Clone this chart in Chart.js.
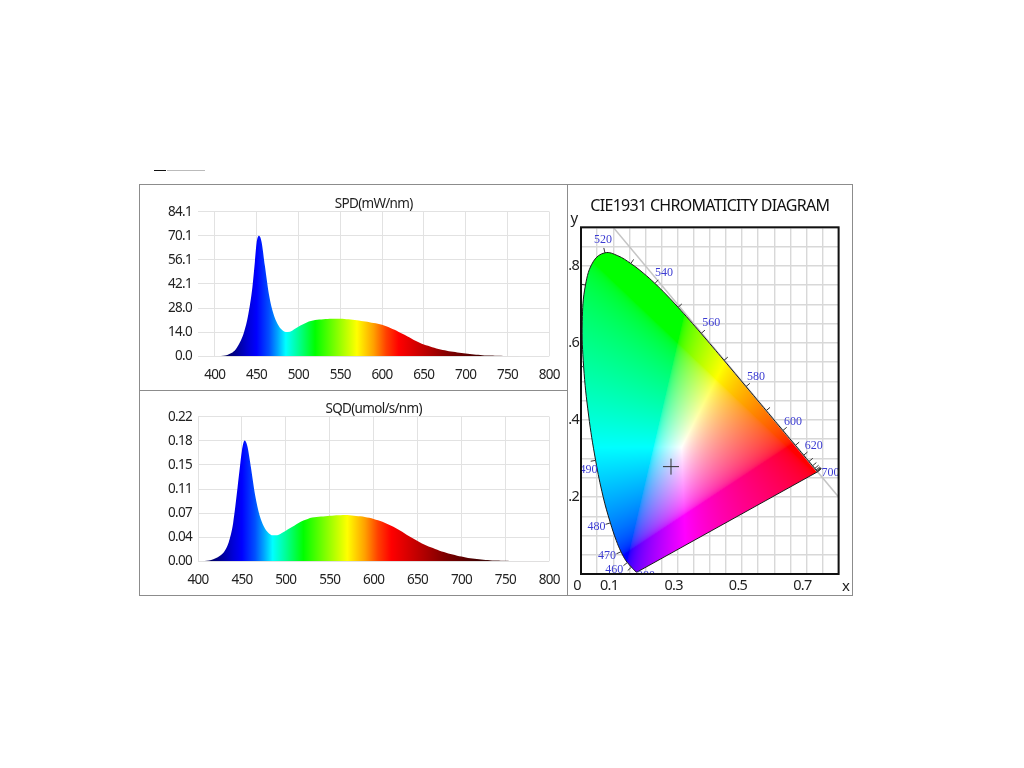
<!DOCTYPE html>
<html>
<head>
<meta charset="utf-8">
<script src="https://cdn.jsdelivr.net/npm/chart.js@4/dist/chart.umd.js"></script>
<style>
  html, body { margin: 0; background: #fff; }
  #frame { position: absolute; left: 139px; top: 184px; width: 712px; height: 410px; border: 1px solid #8c8c8c; }
  #splitV { position: absolute; left: 567px; top: 185px; width: 1px; height: 410px; background: #8c8c8c; }
  #splitH { position: absolute; left: 140px; top: 390px; width: 427px; height: 1px; background: #8c8c8c; }
  #barA { position: absolute; left: 154px; top: 170px; width: 12px; height: 1px; background: #111; }
  #barB { position: absolute; left: 167px; top: 170px; width: 38px; height: 1px; background: #bbb; }
  canvas { position: absolute; }
</style>
</head>
<body>
<div id="frame"></div><div id="splitV"></div><div id="splitH"></div><div id="barA"></div><div id="barB"></div>
<canvas id="spd" width="427" height="204" style="left:140px;top:186px"></canvas>
<canvas id="sqd" width="427" height="204" style="left:140px;top:391px"></canvas>
<canvas id="cie" width="283" height="409" style="left:568px;top:186px"></canvas>
<script>
const wavelengths = [
  400, 405, 410, 415, 420, 425, 430, 435, 440, 445,
  448, 450, 453, 456, 460, 465, 470, 475, 480, 485,
  490, 495, 500, 505, 510, 515, 520, 525, 530, 535,
  540, 545, 550, 555, 560, 565, 570, 575, 580, 585,
  590, 595, 600, 605, 610, 615, 620, 625, 630, 635,
  640, 645, 650, 655, 660, 665, 670, 675, 680, 685,
  690, 695, 700, 705, 710, 715, 720, 725, 730, 735,
  740, 745, 750, 755, 760, 765, 770, 775, 780, 785,
  790, 795, 800,
];
const spdValues = [
  0, 0.1, 0.3, 0.8, 1.9, 4.0, 8.0, 14.0, 24.0, 40.0,
  55.0, 65.7, 70.1, 66.5, 52.5, 35.5, 25.0, 19.0, 15.6, 14.2,
  14.3, 15.7, 17.2, 18.5, 19.7, 20.5, 21.1, 21.4, 21.6, 21.7,
  21.8, 21.8, 21.8, 21.7, 21.5, 21.3, 21.0, 20.6, 20.2, 19.8,
  19.3, 18.9, 18.3, 17.5, 16.5, 15.4, 14.2, 12.9, 11.6, 10.3,
  9.0, 7.9, 6.9, 6.1, 5.3, 4.6, 4.0, 3.5, 3.0, 2.6,
  2.2, 1.9, 1.6, 1.3, 1.05, 0.85, 0.65, 0.5, 0.4, 0.3,
  0.25, 0.2, 0.15, 0.15, 0.15, 0.1, 0.1, 0.1, 0.1, 0.1,
  0.1, 0.1, 0.1,
];
const sqdValues = [
  0, 0.0002, 0.0008, 0.002, 0.0045, 0.0085, 0.015, 0.029, 0.058, 0.112,
  0.147, 0.168, 0.1836, 0.176, 0.145, 0.101, 0.0705, 0.053, 0.0435, 0.0395,
  0.0395, 0.0425, 0.0465, 0.0505, 0.0545, 0.0585, 0.062, 0.0645, 0.0665, 0.0675,
  0.068, 0.0687, 0.0692, 0.0697, 0.07, 0.0705, 0.0703, 0.0698, 0.069, 0.0685,
  0.0675, 0.0662, 0.0645, 0.0625, 0.06, 0.0572, 0.0542, 0.0508, 0.047, 0.0428,
  0.0385, 0.0345, 0.0307, 0.0272, 0.024, 0.0212, 0.0186, 0.0162, 0.014, 0.012,
  0.0102, 0.0086, 0.0072, 0.0059, 0.0048, 0.0039, 0.003, 0.0024, 0.0018, 0.0014,
  0.0012, 0.001, 0.0008, 0.0006, 0.0005, 0.0004, 0.0003, 0.0003, 0.0003, 0.0003,
  0.0003, 0.0003, 0.0003,
];
const nmTicks = [400, 450, 500, 550, 600, 650, 700, 750, 800];
const spdTicks = [0, 14.02, 28.03, 42.06, 56.07, 70.08, 84.1];
const sqdTicks = [0, 0.0367, 0.0733, 0.11, 0.1467, 0.1833, 0.22];

const spectrumStops = [380, 410, 425, 440, 450, 465, 475, 485, 500, 520, 545, 570, 590, 605, 620, 650, 680, 720, 760];
const spectrumColors = ["#100030", "#000050", "#000090", "#0000d8", "#0000ff", "#0050ff", "#00a4ff", "#00ffff", "#00ff96", "#00ff00", "#80ff00", "#ffff00", "#ffa000", "#ff4000", "#ff0000", "#c00000", "#800000", "#400000", "#503030"];

const locusNm = [380, 400, 420, 440, 450, 460, 465, 470, 475, 480, 485, 490, 495, 500, 505, 510, 515, 520, 525, 530, 535, 540, 545, 550, 555, 560, 565, 570, 575, 580, 585, 590, 595, 600, 605, 610, 620, 630, 640, 650, 660, 670, 680, 690, 700];
const locusX = [0.1741, 0.1733, 0.1714, 0.1644, 0.1566, 0.144, 0.1355, 0.1241, 0.1096, 0.0913, 0.0687, 0.0454, 0.0235, 0.0082, 0.0039, 0.0139, 0.0389, 0.0743, 0.1142, 0.1547, 0.1929, 0.2296, 0.2658, 0.3016, 0.3373, 0.3731, 0.4087, 0.4441, 0.4788, 0.5125, 0.5448, 0.5752, 0.6029, 0.627, 0.6482, 0.6658, 0.6915, 0.7079, 0.719, 0.726, 0.73, 0.732, 0.7334, 0.7344, 0.7347];
const locusY = [0.005, 0.0048, 0.0051, 0.0109, 0.0177, 0.0297, 0.0399, 0.0578, 0.0868, 0.1327, 0.2007, 0.295, 0.4127, 0.5384, 0.6548, 0.7502, 0.812, 0.8338, 0.8262, 0.8059, 0.7816, 0.7543, 0.7243, 0.6923, 0.6589, 0.6245, 0.5896, 0.5547, 0.5202, 0.4866, 0.4544, 0.4242, 0.3965, 0.3725, 0.3514, 0.334, 0.3083, 0.292, 0.2809, 0.274, 0.27, 0.268, 0.2666, 0.2656, 0.2653];
const tickedNm = [450, 460, 470, 480, 490, 500, 510, 520, 530, 540, 550, 560, 570, 580, 590, 600, 610, 620, 630, 640, 650, 660, 670, 680, 690, 700];
const labelledNm = [380, 460, 470, 480, 490, 520, 540, 560, 580, 600, 620, 700];
const labelShiftX = [9, -13, -14, -14, -7, -2, 9, 10, 10, 10, 10, 13];
const labelShiftY = [4, 7, 4, 4, 9, -13, -11, -11, -10, -9, -9, 1];
const cieXLabels = { "0.00": "0", "0.10": "0.1", "0.30": "0.3", "0.50": "0.5", "0.70": "0.7" };
const cieYLabels = { "0.20": ".2", "0.40": ".4", "0.60": ".6", "0.80": ".8" };
const measuredX = [0.2795];
const measuredY = [0.2787];
const unityX = [0.1, 0.8];
const unityY = [0.9, 0.2];

const UI_FONT = '"Noto Sans", sans-serif';
const TEXT_TIGHTEN = "-0.7px";
Chart.defaults.font.family = UI_FONT;
Chart.defaults.color = "#222";

const GRID = "#e2e2e2";

// the reference uses a narrow face, none is installed so pull the letters together
Chart.register({
  id: "tightText",
  beforeUpdate(chart) { chart.ctx.letterSpacing = TEXT_TIGHTEN; },
  beforeDraw(chart) { chart.ctx.letterSpacing = TEXT_TIGHTEN; },
});

const spectrumGradient = (context) => {
  const { chart } = context;
  if (!chart.chartArea) return "#0000ff";
  const xs = chart.scales.x;
  const gradient = chart.ctx.createLinearGradient(xs.left, 0, xs.right, 0);
  spectrumStops.forEach((nm, i) => {
    const at = (nm - xs.min) / (xs.max - xs.min);
    if (at >= 0 && at <= 1) gradient.addColorStop(at, spectrumColors[i]);
  });
  return gradient;
};

const createSpectrum = (id, name, values, yTicks, decimals, xMin, titleTop) => {
  return new Chart(document.getElementById(id), {
    type: "line",
    data: {
      datasets: [
        {
          label: name,
          data: wavelengths.map((nm, i) => ({ x: nm, y: values[i] })),
          borderWidth: 0,
          pointRadius: 0,
          fill: "origin",
          cubicInterpolationMode: "monotone",
          backgroundColor: spectrumGradient,
        },
      ],
    },
    options: {
      responsive: false,
      animation: false,
      layout: { autoPadding: false, padding: { right: 17.7, bottom: 0, left: 0, top: 0 } },
      plugins: {
        legend: { display: false },
        tooltip: { enabled: false },
        title: {
          display: true,
          text: name,
          fullSize: false,
          font: { size: 13.5, weight: "normal", lineHeight: 1 },
          color: "#222",
          padding: titleTop,
        },
      },
      scales: {
        x: {
          type: "linear",
          min: xMin,
          max: 800,
          afterBuildTicks: (axis) => { axis.ticks = nmTicks.map((value) => ({ value })); },
          afterFit: (axis) => {
            axis.height = 33.7;
            axis.paddingLeft = 0;
            axis.paddingRight = 0;
          },
          grid: { color: GRID, drawTicks: false },
          border: { display: false },
          ticks: { maxRotation: 0, autoSkip: false, padding: 10.5, font: { size: 13.5 }, callback: (value) => `${value}` },
        },
        y: {
          min: 0,
          max: yTicks[yTicks.length - 1],
          afterBuildTicks: (axis) => { axis.ticks = yTicks.map((value) => ({ value })); },
          afterFit: (axis) => { axis.width = 58; },
          grid: { color: GRID, drawTicks: false },
          border: { display: false },
          ticks: { autoSkip: false, padding: 6, font: { size: 13.5 }, callback: (value) => value.toFixed(decimals) },
        },
      },
    },
  });
};

const chromaticityColor = (x, y) => {
  const X = x / y;
  const Z = (1 - x - y) / y;
  const r = Math.max(0, 3.2406 * X - 1.5372 - 0.4986 * Z);
  const g = Math.max(0, -0.9689 * X + 1.8758 + 0.0415 * Z);
  const b = Math.max(0, 0.0557 * X - 0.204 + 1.057 * Z);
  const top = Math.max(r, g, b) || 1;
  return [r / top, g / top, b / top].map((c) => Math.round(255 * Math.pow(c, 1 / 2.2)));
};

// paints the horseshoe through the scales, clipped to the smoothed locus line
const horseshoeFill = {
  id: "horseshoeFill",
  beforeDatasetsDraw(chart) {
    const { ctx, chartArea: area, scales } = chart;
    const w = Math.round(area.width);
    const h = Math.round(area.height);
    const off = document.createElement("canvas");
    off.width = w;
    off.height = h;
    const offCtx = off.getContext("2d");
    const img = offCtx.createImageData(w, h);
    for (let py = 0; py < h; py++) {
      const y = scales.y.getValueForPixel(area.top + py + 0.5);
      for (let px = 0; px < w; px++) {
        const x = scales.x.getValueForPixel(area.left + px + 0.5);
        const [r, g, b] = chromaticityColor(x, Math.max(y, 0.001));
        const i = (py * w + px) * 4;
        img.data[i] = r;
        img.data[i + 1] = g;
        img.data[i + 2] = b;
        img.data[i + 3] = 255;
      }
    }
    offCtx.putImageData(img, 0, 0);
    ctx.save();
    ctx.beginPath();
    chart.getDatasetMeta(0).dataset.path(ctx);
    ctx.closePath();
    ctx.clip();
    ctx.drawImage(off, area.left, area.top);
    ctx.restore();
  },
};

const locusDecor = {
  id: "locusDecor",
  afterDatasetsDraw(chart) {
    const { ctx, chartArea: area, scales } = chart;
    const pos = (i) => [scales.x.getPixelForValue(locusX[i]), scales.y.getPixelForValue(locusY[i])];
    ctx.save();
    ctx.beginPath();
    ctx.rect(area.left, area.top, area.width, area.height);
    ctx.clip();
    ctx.strokeStyle = "#333";
    ctx.lineWidth = 1;
    tickedNm.forEach((nm) => {
      const i = locusNm.indexOf(nm);
      const [ax, ay] = pos(Math.max(i - 1, 0));
      const [bx, by] = pos(Math.min(i + 1, locusNm.length - 1));
      const len = Math.hypot(bx - ax, by - ay) || 1;
      const [px, py] = pos(i);
      ctx.beginPath();
      ctx.moveTo(px, py);
      ctx.lineTo(px + ((by - ay) / len) * 5, py - ((bx - ax) / len) * 5);
      ctx.stroke();
    });
    ctx.letterSpacing = "0px";
    ctx.fillStyle = "#3c3cd2";
    ctx.font = '12px "Liberation Serif", serif';
    ctx.textAlign = "center";
    ctx.textBaseline = "middle";
    labelledNm.forEach((nm, n) => {
      const [px, py] = pos(locusNm.indexOf(nm));
      ctx.fillText(`${nm}`, px + labelShiftX[n], py + labelShiftY[n]);
    });
    ctx.restore();
    ctx.strokeStyle = "#111";
    ctx.lineWidth = 2;
    ctx.strokeRect(area.left, area.top, area.width, area.height);
    ctx.fillStyle = "#222";
    ctx.font = `15px ${UI_FONT}`;
    ctx.textAlign = "center";
    ctx.textBaseline = "middle";
    ctx.fillText("x", area.right + 7, area.bottom + 13);
    ctx.fillText("y", area.left - 7, area.top - 9);
  },
};

const createCie = (id) => {
  return new Chart(document.getElementById(id), {
    type: "scatter",
    data: {
      datasets: [
        {
          data: locusX.map((x, i) => ({ x, y: locusY[i] })),
          showLine: true,
          tension: 0.4,
          borderColor: "#1a1a1a",
          borderWidth: 1,
          pointRadius: 0,
        },
        {
          data: [0, locusX.length - 1].map((i) => ({ x: locusX[i], y: locusY[i] })),
          showLine: true,
          borderColor: "#1a1a1a",
          borderWidth: 1,
          pointRadius: 0,
        },
        {
          data: unityX.map((x, i) => ({ x, y: unityY[i] })),
          showLine: true,
          borderColor: "#c4c4c4",
          borderWidth: 1.5,
          pointRadius: 0,
        },
        {
          data: measuredX.map((x, i) => ({ x, y: measuredY[i] })),
          pointStyle: "cross",
          pointRadius: 8,
          pointBorderColor: "#333",
          pointBorderWidth: 1,
        },
      ],
    },
    options: {
      responsive: false,
      animation: false,
      layout: { autoPadding: false, padding: { right: 12.4, bottom: 0, left: 0, top: 0 } },
      plugins: {
        legend: { display: false },
        tooltip: { enabled: false },
        title: {
          display: true,
          text: "CIE1931 CHROMATICITY DIAGRAM",
          fullSize: false,
          font: { size: 16, weight: "normal" },
          color: "#111",
          padding: { top: 10.4, bottom: 11.7 },
        },
      },
      scales: {
        x: {
          type: "linear",
          min: 0,
          max: 0.8,
          afterFit: (axis) => { axis.height = 21; },
          grid: { color: "#d8d8d8", lineWidth: 1.4, drawTicks: false },
          border: { display: false },
          ticks: {
            stepSize: 0.05,
            autoSkip: false,
            maxRotation: 0,
            labelOffset: -4,
            padding: 3,
            font: { size: 14.5 },
            callback: (value) => cieXLabels[value.toFixed(2)] || "",
          },
        },
        y: {
          type: "linear",
          min: 0,
          max: 0.9,
          afterFit: (axis) => { axis.width = 13; },
          grid: { color: "#d8d8d8", lineWidth: 1.4, drawTicks: false },
          border: { display: false },
          ticks: {
            stepSize: 0.05,
            autoSkip: false,
            padding: 2,
            font: { size: 14.5 },
            callback: (value) => cieYLabels[value.toFixed(2)] || "",
          },
        },
      },
    },
    plugins: [horseshoeFill, locusDecor],
  });
};

createSpectrum("spd", "SPD(mW/nm)", spdValues, spdTicks, 1, 380, { top: 11.2, bottom: 1 });
createSpectrum("sqd", "SQD(umol/s/nm)", sqdValues, sqdTicks, 2, 400, { top: 11.5, bottom: 0.7 });
createCie("cie");
</script>
</body>
</html>
